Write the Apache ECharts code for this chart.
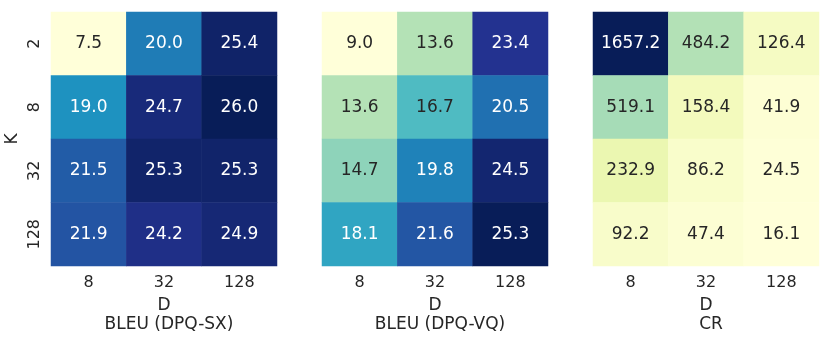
<!DOCTYPE html>
<html>
<head>
<meta charset="utf-8">
<script src="https://cdn.jsdelivr.net/npm/echarts@6/dist/echarts.min.js"></script>
<style>
  html, body { margin: 0; padding: 0; background: #fff; }
  #chart { width: 831px; height: 338px; }
</style>
</head>
<body>
<div id="chart"></div>
<script>
// axis categories
const dLabels = ['8', '32', '128'];
const kLabels = ['2', '8', '32', '128'];

// rows = K (2, 8, 32, 128), columns = D (8, 32, 128)
const bleuSX = [
  [7.5, 20.0, 25.4],
  [19.0, 24.7, 26.0],
  [21.5, 25.3, 25.3],
  [21.9, 24.2, 24.9],
];
const bleuVQ = [
  [9.0, 13.6, 23.4],
  [13.6, 16.7, 20.5],
  [14.7, 19.8, 24.5],
  [18.1, 21.6, 25.3],
];
const cr = [
  [1657.2, 484.2, 126.4],
  [519.1, 158.4, 41.9],
  [232.9, 86.2, 24.5],
  [92.2, 47.4, 16.1],
];
const panelTitles = ['BLEU (DPQ-SX)', 'BLEU (DPQ-VQ)', 'CR'];

const YlGnBu = ['#ffffd9', '#edf8b1', '#c7e9b4', '#7fcdbb', '#41b6c4',
  '#1d91c0', '#225ea8', '#253494', '#081d58'];
const FONT = 'DejaVu Sans';
const DARK = '#262626';

const panels = [bleuSX, bleuVQ, cr];
const lefts = [51, 322, 593];
const W = 226, TOP = 12, H = 254;

// flatten a 2D table into heatmap items, picking label colour like seaborn
const toItems = (table) => {
  const flat = table.flat();
  const lo = Math.min(...flat), hi = Math.max(...flat);
  const items = [];
  table.forEach((row, k) => {
    row.forEach((v, d) => {
      const t = (v - lo) / (hi - lo);
      items.push({
        value: [d, k, v],
        label: { color: t > 0.5 ? '#ffffff' : DARK },
      });
    });
  });
  return { items, lo, hi };
};

const chart = echarts.init(document.getElementById('chart'));

const grid = [], xAxis = [], yAxis = [], visualMap = [], series = [], title = [];
panels.forEach((table, i) => {
  const { items, lo, hi } = toItems(table);
  grid.push({ left: lefts[i], top: TOP, width: W, height: H });
  xAxis.push({
    type: 'category', gridIndex: i, data: dLabels,
    name: 'D', nameLocation: 'middle', nameGap: 31,
    nameTextStyle: { color: DARK, fontSize: 17, fontFamily: FONT },
    axisLine: { show: false }, axisTick: { show: false }, splitLine: { show: false },
    axisLabel: { color: DARK, fontSize: 16, fontFamily: FONT, margin: 9 },
  });
  yAxis.push({
    type: 'category', gridIndex: i, data: kLabels, inverse: true,
    name: i === 0 ? 'K' : '', nameLocation: 'middle', nameGap: 30,
    nameTextStyle: { color: DARK, fontSize: 17, fontFamily: FONT },
    axisLine: { show: false }, axisTick: { show: false }, splitLine: { show: false },
    axisLabel: { show: i === 0, rotate: 90, color: DARK, fontSize: 16, fontFamily: FONT, margin: 8 },
  });
  visualMap.push({
    type: 'continuous', show: false, seriesIndex: i, dimension: 2,
    min: lo, max: hi, inRange: { color: YlGnBu },
  });
  series.push({
    type: 'heatmap', xAxisIndex: i, yAxisIndex: i, data: items,
    label: { show: true, fontSize: 17, fontFamily: FONT, formatter: (p) => p.value[2].toFixed(1) },
    itemStyle: { borderWidth: 0 },
    emphasis: { disabled: true },
  });
  title.push({
    text: panelTitles[i], left: lefts[i] + W / 2, top: 311, textAlign: 'center',
    textStyle: { color: DARK, fontSize: 17, fontWeight: 'normal', fontFamily: FONT },
  });
});

chart.setOption({
  animation: false,
  backgroundColor: '#ffffff',
  title, grid, xAxis, yAxis, visualMap, series,
});
</script>
</body>
</html>
